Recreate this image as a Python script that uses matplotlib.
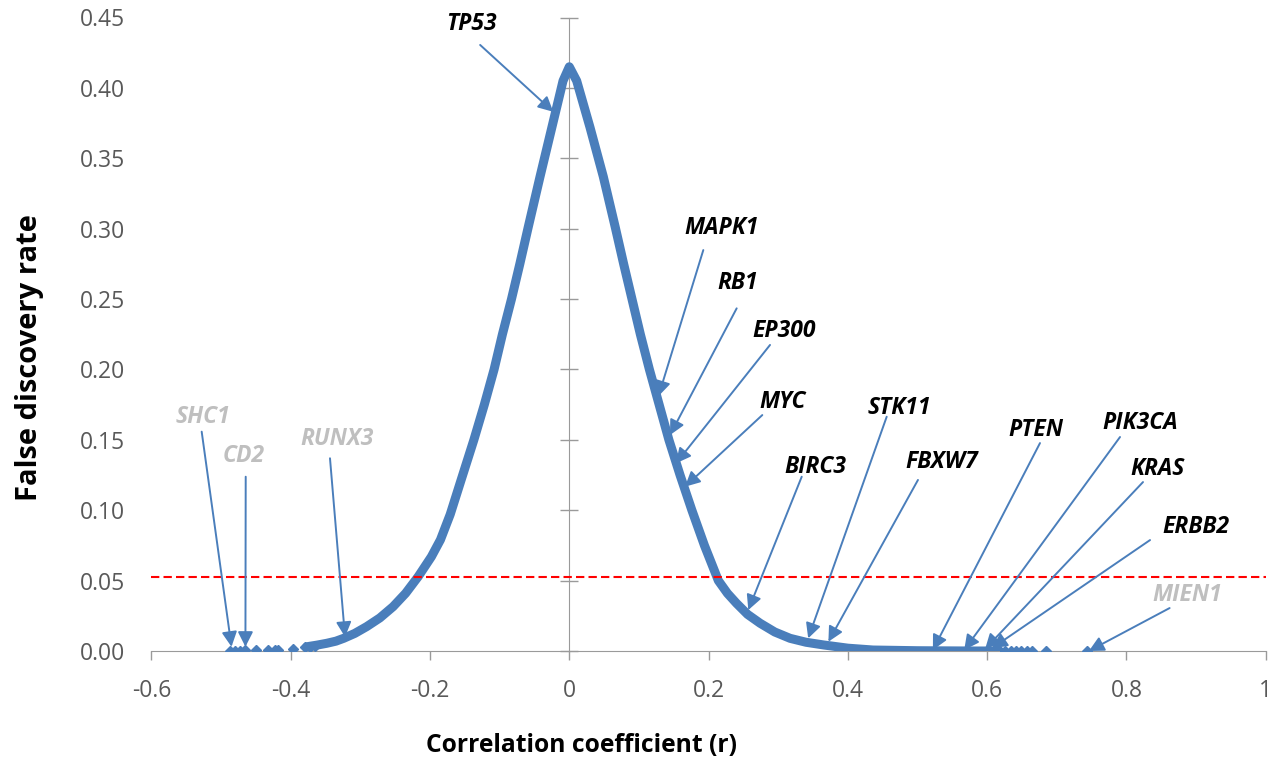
import numpy as np
import matplotlib.pyplot as plt

plt.rcParams['font.family'] = ['Open Sans', 'DejaVu Sans']

# dense part of the curve, left and right of the peak (r, FDR)
r_left = [-0.377, -0.362, -0.348, -0.335, -0.324, -0.308, -0.291, -0.272, -0.253,
          -0.235, -0.217, -0.198, -0.185, -0.171, -0.155, -0.137, -0.122, -0.108,
          -0.096, -0.083, -0.071, -0.059, -0.042, -0.025, -0.009, 0.0]
fdr_left = [0.003, 0.0042, 0.0055, 0.007, 0.009, 0.0125, 0.0173, 0.0235, 0.0315,
            0.041, 0.0528, 0.067, 0.079, 0.097, 0.122, 0.150, 0.175, 0.200,
            0.225, 0.250, 0.275, 0.301, 0.337, 0.372, 0.405, 0.415]
r_right = [0.0106, 0.0297, 0.0488, 0.066, 0.078, 0.090, 0.102, 0.115, 0.129, 0.143,
           0.159, 0.176, 0.194, 0.214, 0.227, 0.240, 0.256, 0.274, 0.295, 0.317,
           0.340, 0.365, 0.400, 0.436, 0.50, 0.577, 0.618]
fdr_right = [0.405, 0.372, 0.337, 0.301, 0.275, 0.250, 0.225, 0.200, 0.175, 0.150,
             0.125, 0.100, 0.075, 0.050, 0.041, 0.0339, 0.026, 0.0197, 0.0135, 0.009,
             0.0062, 0.0043, 0.002, 0.0007, 0.0002, 0.0, 0.0]

# isolated genes in the tails
r_sparse = [-0.487, -0.480, -0.473, -0.466, -0.450, -0.432, -0.423, -0.418, -0.396,
            -0.379, -0.372, -0.365, 0.626, 0.634, 0.641, 0.649, 0.657, 0.664, 0.685, 0.744]
fdr_sparse = [0.0003, 0.0003, 0.0003, 0.0004, 0.0005, 0.0007, 0.0008, 0.0009, 0.0015,
              0.0025, 0.003, 0.0035, 0.0, 0.0, 0.0, 0.0, 0.0, 0.0, 0.0, 0.0]

# labelled genes: name, point (r, fdr), arrow tail, label centre, significant?
genes = ['TP53', 'MAPK1', 'RB1', 'EP300', 'MYC', 'BIRC3', 'STK11', 'FBXW7',
         'PTEN', 'PIK3CA', 'KRAS', 'ERBB2', 'MIEN1', 'SHC1', 'CD2', 'RUNX3']
gene_r = [-0.023, 0.128, 0.1446, 0.1532, 0.1661, 0.257, 0.343, 0.372,
          0.522, 0.567, 0.597, 0.607, 0.746, -0.485, -0.465, -0.322]
gene_fdr = [0.383, 0.181, 0.1534, 0.1333, 0.1167, 0.0291, 0.009, 0.0066,
            0.0007, 0.0007, 0.0014, 0.002, 0.0, 0.003, 0.003, 0.010]
tail_r = [-0.128, 0.1924, 0.2403, 0.2882, 0.2771, 0.3337, 0.4557, 0.5006,
          0.6758, 0.7907, 0.8237, 0.8338, 0.8619, -0.5278, -0.4646, -0.3436]
tail_fdr = [0.4305, 0.2848, 0.2434, 0.2174, 0.1676, 0.1238, 0.1664, 0.1215,
            0.1477, 0.152, 0.12, 0.0788, 0.0305, 0.1558, 0.1238, 0.1369]
label_r = [-0.1412, 0.2192, 0.2422, 0.3083, 0.3068, 0.3528, 0.4734, 0.5351,
           0.6701, 0.8194, 0.8452, 0.8998, 0.8869, -0.5266, -0.467, -0.3335]
label_fdr = [0.4454, 0.3005, 0.2614, 0.2273, 0.1769, 0.1307, 0.1726, 0.1343,
             0.157, 0.162, 0.1293, 0.0881, 0.0398, 0.1662, 0.1382, 0.1509]
significant = [True] * 12 + [False] * 4

fdr_cutoff = 0.0525

xticks = [-0.6, -0.4, -0.2, 0, 0.2, 0.4, 0.6, 0.8, 1]
xticklabels = ['-0.6', '-0.4', '-0.2', '0', '0.2', '0.4', '0.6', '0.8', '1']
yticks = np.arange(0, 0.451, 0.05)

blue = '#4a7ebb'
grey = '#9a9a9a'

fig = plt.figure(figsize=(12.85, 7.61), dpi=100)
ax = fig.add_axes([151.4 / 1285, 1 - 651 / 761, (1265.8 - 151.4) / 1285, (651 - 17.5) / 761])

ax.plot(r_left + r_right, fdr_left + fdr_right, color=blue, lw=6.5,
        solid_joinstyle='round', solid_capstyle='round', zorder=3)
ax.plot(r_sparse, fdr_sparse, 'D', color=blue, ms=5, mec=blue, zorder=3)

ax.axhline(fdr_cutoff, color='#ff0000', lw=1.5, ls=(0, (4, 2)), zorder=4)

for i, g in enumerate(genes):
    ax.annotate('', xy=(gene_r[i], gene_fdr[i]), xytext=(tail_r[i], tail_fdr[i]),
                arrowprops=dict(arrowstyle='-|>,head_length=0.75,head_width=0.38',
                                color=blue, lw=1.4, mutation_scale=12,
                                shrinkA=0, shrinkB=0), zorder=5)
    ax.text(label_r[i], label_fdr[i], g, ha='center', va='center',
            fontsize=16.5, fontweight='bold', fontstyle='italic',
            color='black' if significant[i] else '#bfbfbf', zorder=6)

ax.set_xlim(-0.6, 1)
ax.set_ylim(0, 0.45)
ax.set_xticks(xticks)
ax.set_xticklabels(xticklabels)
ax.set_yticks(yticks)
ax.set_yticklabels(['%.2f' % v for v in yticks])
ax.tick_params(axis='y', length=0, pad=19, labelsize=16.5, labelcolor='#595959')
ax.tick_params(axis='x', length=6.5, width=1, color=grey, pad=14,
               labelsize=16.5, labelcolor='#595959')
for s in ['top', 'right', 'left']:
    ax.spines[s].set_visible(False)
ax.spines['bottom'].set_color(grey)

# vertical axis line at r = 0 with crossing ticks
sec = ax.secondary_yaxis(0.375)
sec.set_yticks(yticks)
sec.tick_params(direction='inout', length=13, width=1, color=grey,
                labelleft=False, labelright=False)
sec.spines['left'].set_color(grey)

fig.text(30 / 1285, 1 - 358 / 761, 'False discovery rate', rotation=90,
         ha='center', va='center', fontsize=21, fontweight='bold')
fig.text(581 / 1285, 1 - 745 / 761, 'Correlation coefficient (r)',
         ha='center', va='center', fontsize=17.7, fontweight='bold')

fig.savefig('out.png', dpi=100)
